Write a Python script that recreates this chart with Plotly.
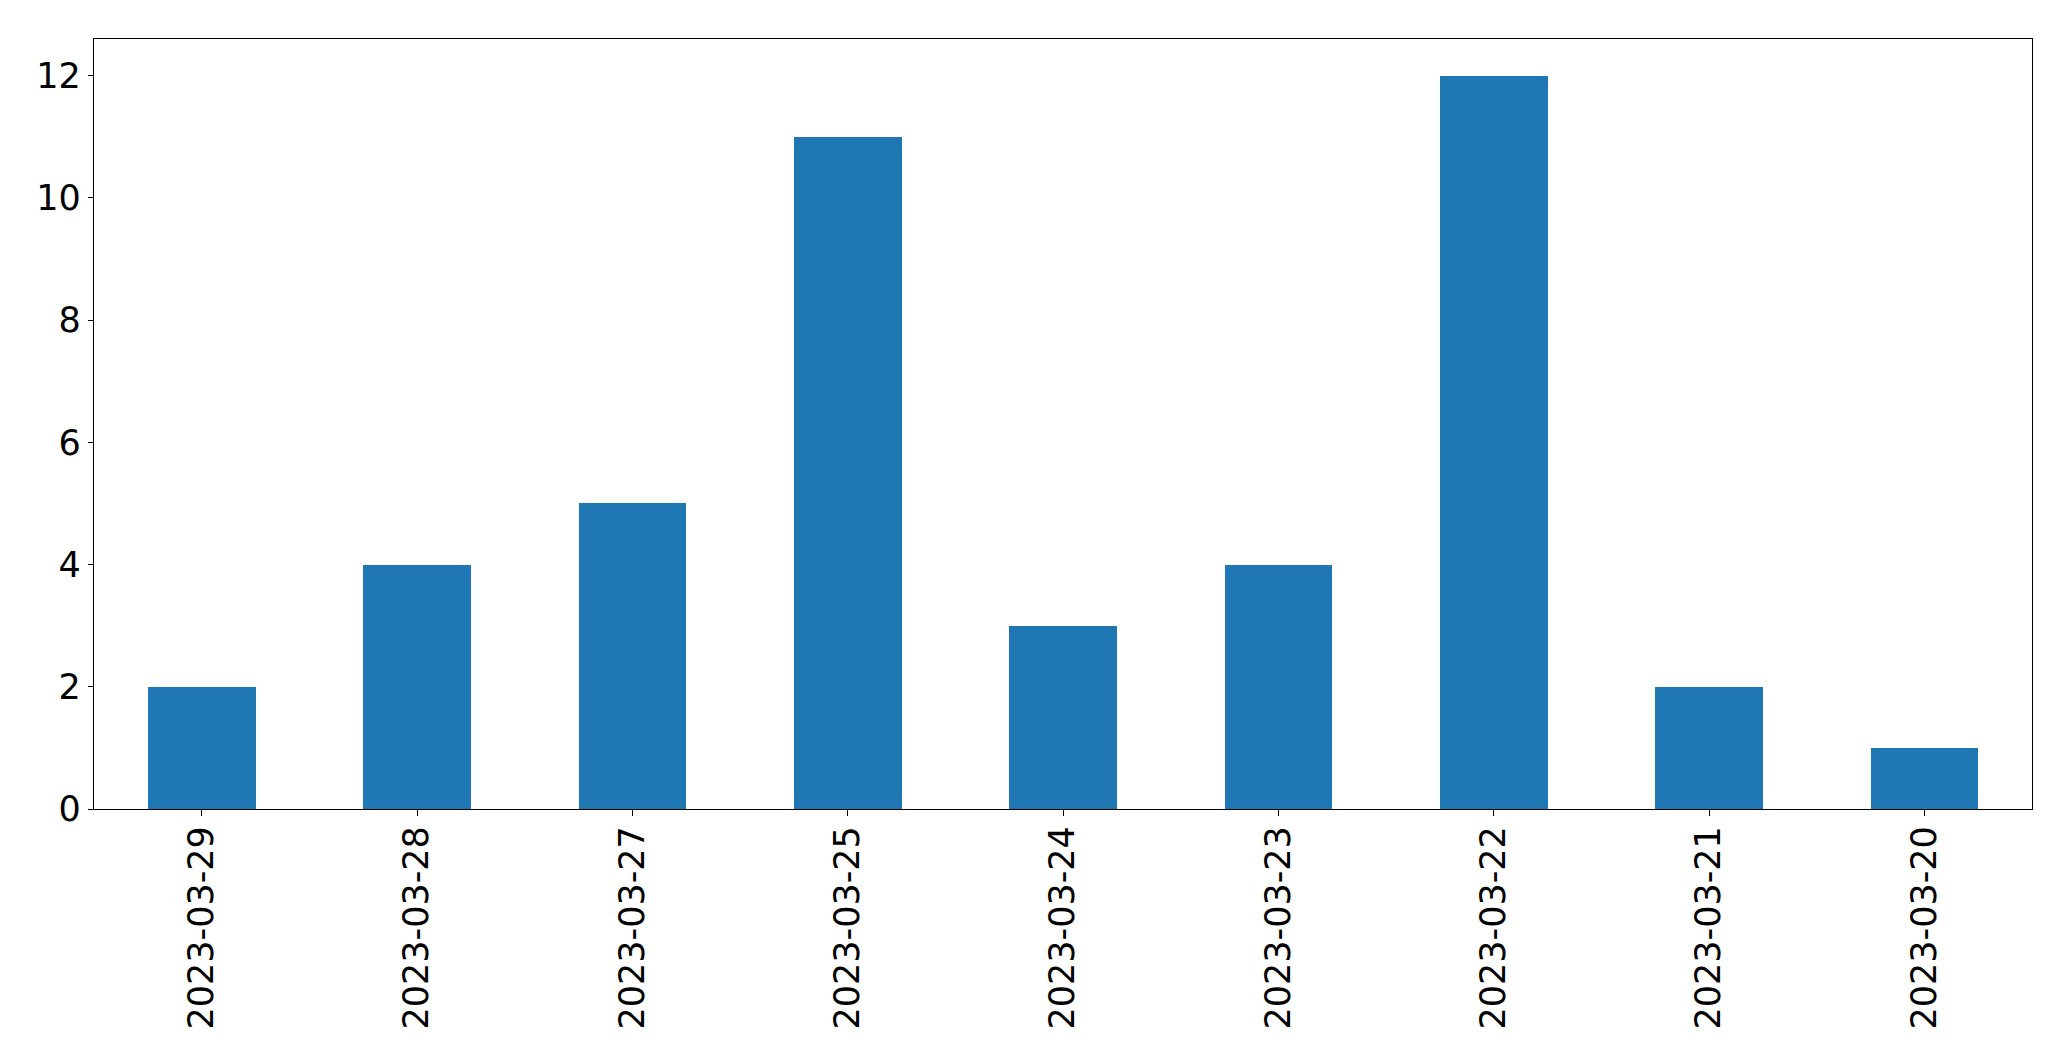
import plotly.graph_objects as go

dates = ["2023-03-29", "2023-03-28", "2023-03-27", "2023-03-25", "2023-03-24",
         "2023-03-23", "2023-03-22", "2023-03-21", "2023-03-20"]
counts = [2, 4, 5, 11, 3, 4, 12, 2, 1]
y_ticks = [0, 2, 4, 6, 8, 10, 12]

fig = go.Figure()
fig.add_trace(go.Bar(x=list(range(len(dates))), y=counts, width=0.5,
                     marker=dict(color="#1f77b4", line=dict(width=0))))

fig.update_layout(
    width=2055, height=1045,
    margin=dict(l=86, r=31, t=31, b=244),
    plot_bgcolor="white", paper_bgcolor="white",
    showlegend=False,
    font=dict(family="DejaVu Sans", size=35, color="black"),
    bargap=0,
)
fig.update_xaxes(
    range=[-0.5, len(dates) - 0.5],
    tickmode="array", tickvals=list(range(len(dates))), ticktext=dates,
    tickangle=-90, ticks="outside", ticklen=6, tickcolor="black", tickwidth=1.3,
    ticklabelstandoff=-4,
    showline=True, linecolor="black", linewidth=1.3, mirror=True,
    showgrid=False, zeroline=False,
    tickfont=dict(family="DejaVu Sans", size=35, color="black"),
)
fig.update_yaxes(
    range=[0, 12.6],
    tickmode="array", tickvals=y_ticks,
    ticks="outside", ticklen=5, tickcolor="black", tickwidth=1.3,
    showline=True, linecolor="black", linewidth=1.3, mirror=True,
    showgrid=False, zeroline=False,
    tickfont=dict(family="DejaVu Sans", size=35, color="black"),
)

fig.write_html("out.html")
